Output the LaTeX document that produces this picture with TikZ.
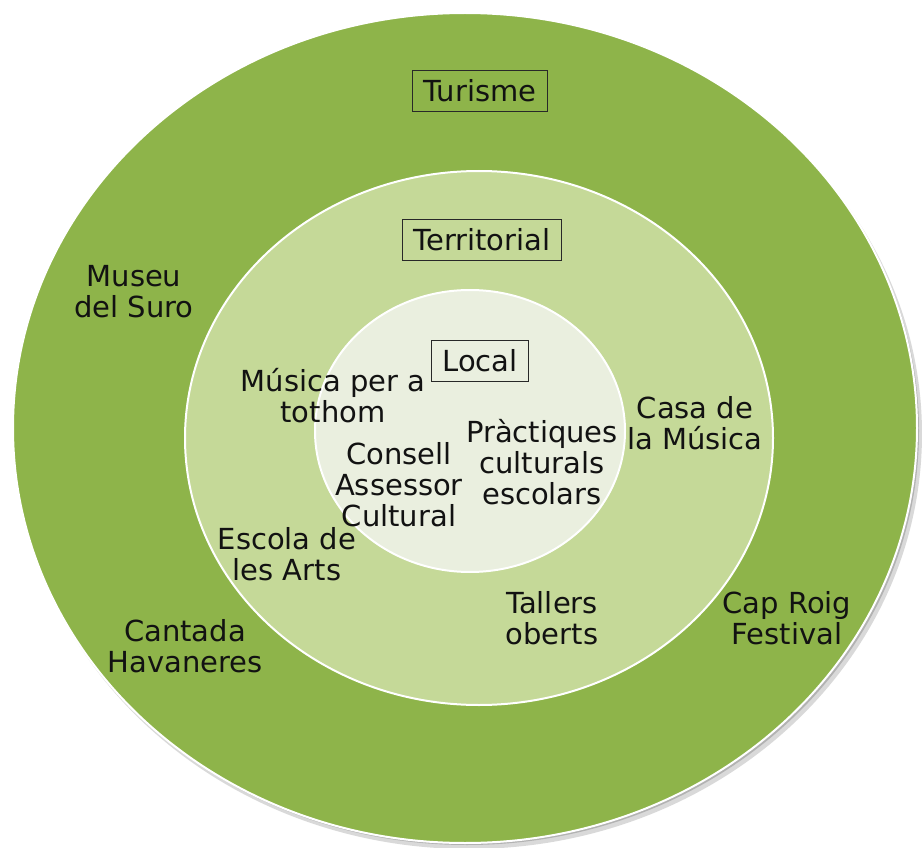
\documentclass[tikz,border=0pt]{standalone}
\usepackage{fontspec}
\setmainfont{DejaVu Sans}
\usetikzlibrary{shapes.geometric}
\definecolor{outergreen}{RGB}{142,180,74}
\definecolor{midgreen}{RGB}{197,217,152}
\definecolor{innergreen}{RGB}{234,239,223}
\definecolor{txt}{RGB}{18,18,18}
\definecolor{boxline}{RGB}{40,40,40}
\tikzset{
  ring/.style={ellipse, draw=white, line width=2pt, inner sep=0pt},
  lbl/.style={text=txt, align=center, font=\fontsize{29}{31}\selectfont, inner sep=0pt},
  boxlbl/.style={lbl, draw=boxline, line width=1.2pt, inner xsep=11pt, inner ysep=9pt}
}
\begin{document}
\begin{tikzpicture}[x=1pt,y=-1pt]
\useasboundingbox (0,0) rectangle (922,848);
% shadow
\fill[gray!30] (469,434) ellipse [x radius=453, y radius=415];
\fill[gray!60] (467,431) ellipse [x radius=452, y radius=414];
% rings
\node[ring, fill=outergreen, minimum width=904pt, minimum height=830pt] (outer) at (465,428) {};
\node[ring, fill=midgreen, minimum width=588pt, minimum height=534pt] (middle) at (479,438) {};
\node[ring, fill=innergreen, minimum width=310pt, minimum height=282pt] (inner) at (470,431) {};
% level boxes
\node[boxlbl] (turisme) at (480,91) {Turisme};
\node[boxlbl] (territorial) at (482,240) {Territorial};
\node[boxlbl] (local) at (480,361) {Local};
% items
\node[lbl] (museu) at (134,292) {Museu\\del Suro};
\node[lbl] (musica) at (333,396) {Música per a\\tothom};
\node[lbl] (casa) at (695,423) {Casa de\\la Música};
\node[lbl] (practiques) at (542,462) {Pràctiques\\culturals\\escolars};
\node[lbl] (consell) at (399,485) {Consell\\Assessor\\Cultural};
\node[lbl] (escola) at (287,554) {Escola de\\les Arts};
\node[lbl] (tallers) at (552,618) {Tallers\\oberts};
\node[lbl] (caproig) at (787,618) {Cap Roig\\Festival};
\node[lbl] (cantada) at (185,646) {Cantada\\Havaneres};
\end{tikzpicture}
\end{document}
